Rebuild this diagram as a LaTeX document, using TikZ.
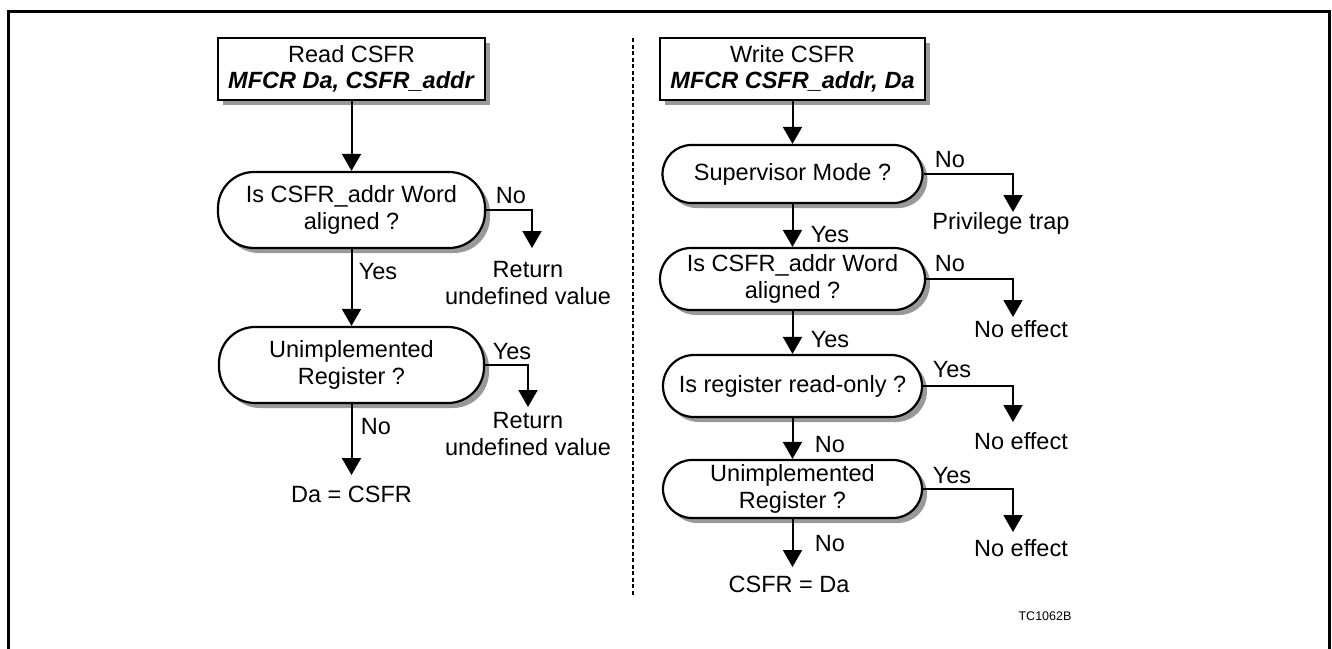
\documentclass[tikz,border=0pt]{standalone}
\usepackage{fontspec}
\setmainfont{Liberation Sans}
\usetikzlibrary{arrows.meta,shadows}
\begin{document}
\begin{tikzpicture}[x=1pt,y=-1pt,
  bigfont/.style={font=\fontsize{23.5}{26.5}\selectfont},
  txt/.style={bigfont, align=center, inner sep=0pt},
  shad/.style={drop shadow={shadow xshift=5pt, shadow yshift=-5pt, fill=black!40, opacity=1}},
  startbox/.style={draw, line width=2.2pt, fill=white, rectangle, inner sep=0pt, align=center, bigfont, shad},
  stad/.style={draw, line width=2.2pt, fill=white, rectangle, inner sep=0pt, align=center, bigfont, shad},
  arr/.style={line width=2pt, -{Triangle[width=19pt,length=17pt]}},
  branch/.style={line width=2pt, -{Triangle[width=19pt,length=17pt]}}
]
\useasboundingbox (0,0) rectangle (1332,648);
% frame
\draw[line width=3pt] (8.5,650) -- (8.5,11.5) -- (1329.5,11.5) -- (1329.5,650);
% separator
\draw[line width=2pt, dash pattern=on 4pt off 2.5pt] (633,38) -- (633,595);

% ---------------- left: read ----------------
\node[startbox, minimum width=267pt, minimum height=62pt] (r0) at (351.5,69)
  {Read CSFR\\\textbf{\textit{MFCR Da, CSFR\_addr}}};
\node[stad, minimum width=267pt, minimum height=76pt, rounded corners=36pt] (r1) at (351.5,210)
  {Is CSFR\_addr Word\\aligned ?};
\node[stad, minimum width=265pt, minimum height=76pt, rounded corners=36pt] (r2) at (351.5,365)
  {Unimplemented\\Register ?};
\coordinate (rt1) at (532,248);
\coordinate (rt2) at (528,407);
\coordinate (rt3) at (351.5,475);
\node[txt] (r1res) at (528,283) {Return\\undefined value};
\node[txt] (r2res) at (528,434) {Return\\undefined value};
\node[txt] (rend) at (351.5,494) {Da = CSFR};
\node[txt] (l1) at (511,196) {No};
\node[txt] (l2) at (378,272) {Yes};
\node[txt] (l3) at (512,352) {Yes};
\node[txt] (l4) at (376,427) {No};

\draw[arr] (r0) -- (r1);
\draw[branch] (r1.east) -| (rt1);
\draw[arr] (r1) -- (r2);
\draw[branch] (r2.east) -| (rt2);
\draw[arr] (r2.south) -- (rt3);

% ---------------- right: write ----------------
\node[startbox, minimum width=265pt, minimum height=62pt] (w0) at (792.5,69)
  {Write CSFR\\\textbf{\textit{MFCR CSFR\_addr, Da}}};
\node[stad, minimum width=260pt, minimum height=58pt, rounded corners=29pt] (w1) at (792.5,174)
  {Supervisor Mode ?};
\node[stad, minimum width=265pt, minimum height=62pt, rounded corners=31pt] (w2) at (792.5,279)
  {Is CSFR\_addr Word\\aligned ?};
\node[stad, minimum width=259pt, minimum height=62pt, rounded corners=31pt] (w3) at (792.5,386)
  {Is register read-only ?};
\node[stad, minimum width=259pt, minimum height=58pt, rounded corners=29pt] (w4) at (792.5,489)
  {Unimplemented\\Register ?};

\coordinate (wt1) at (1013,212);
\coordinate (wt2) at (1013,317);
\coordinate (wt3) at (1013,422);
\coordinate (wt4) at (1013,532);
\coordinate (wt5) at (792.5,567);
\node[txt] (w1res) at (1001,223) {Privilege trap};
\node[txt] (w2res) at (1021,329) {No effect};
\node[txt] (w3res) at (1021,441) {No effect};
\node[txt] (w4res) at (1021,548) {No effect};
\node[txt] (wend) at (789,584) {CSFR = Da};

\node[txt] (m1) at (950,160) {No};
\node[txt] (m2) at (830,235) {Yes};
\node[txt] (m3) at (950,264) {No};
\node[txt] (m4) at (830,340) {Yes};
\node[txt] (m5) at (952,370) {Yes};
\node[txt] (m6) at (830,445) {No};
\node[txt] (m7) at (952,476) {Yes};
\node[txt] (m8) at (830,544) {No};

\draw[arr] (w0) -- (w1);
\draw[branch] (w1.east) -| (wt1);
\draw[arr] (w1) -- (w2);
\draw[branch] (w2.east) -| (wt2);
\draw[arr] (w2) -- (w3);
\draw[branch] (w3.east) -| (wt3);
\draw[arr] (w3) -- (w4);
\draw[branch] (w4.east) -| (wt4);
\draw[arr] (w4.south) -- (wt5);

\node[font=\fontsize{12.5}{14}\selectfont, inner sep=0pt] (tc) at (1045,616) {TC1062B};
\end{tikzpicture}
\end{document}
